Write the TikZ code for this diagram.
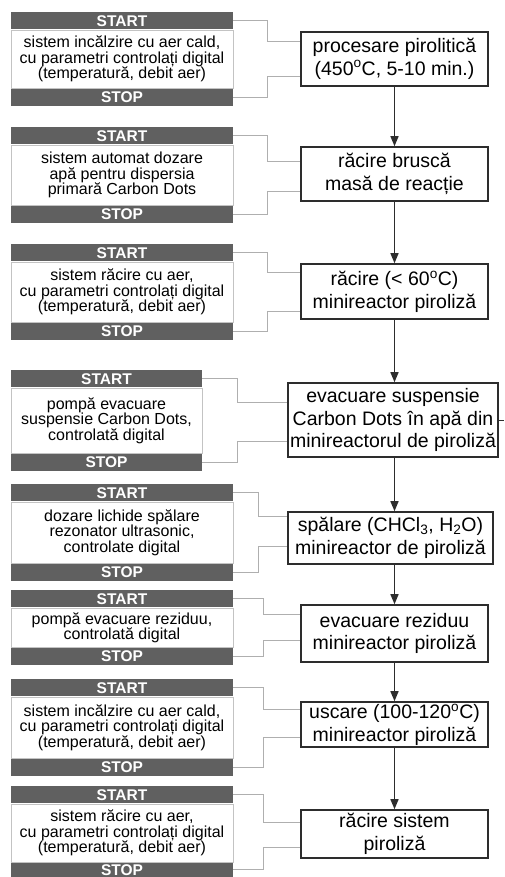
\documentclass[tikz,border=0pt]{standalone}
\usepackage{fontspec}
\setmainfont{Liberation Sans}
\usetikzlibrary{arrows.meta, positioning}
\definecolor{bargray}{RGB}{96,96,96}
\definecolor{linkgray}{RGB}{175,175,175}
\definecolor{framegray}{RGB}{195,195,195}
\definecolor{stepdark}{RGB}{45,45,45}

\begin{document}
\begin{tikzpicture}[x=1pt, y=-1pt,
  ctlbox/.style={draw=framegray, line width=0.8pt, fill=white, inner sep=0pt,
    minimum width=222pt, align=center, font=\fontsize{16}{15.3}\selectfont},
  ctlbar/.style={fill=bargray, text=white, inner sep=0pt, minimum width=222pt,
    minimum height=17pt, font=\fontsize{15.5}{17}\selectfont\bfseries},
  stepbox/.style={draw=stepdark, line width=1.6pt, fill=white, inner sep=0pt,
    minimum width=187pt, align=center, font=\fontsize{19.5}{22.7}\selectfont},
  link/.style={draw=linkgray, line width=1pt},
  flow/.style={draw=stepdark, line width=1.4pt, -{Triangle[length=10pt, width=8pt]}}]
  \useasboundingbox (0,0) rectangle (504,877);

  % --- Step 1: pyrolytic processing ---
  \node[ctlbox, minimum height=58pt] (ctl1) at (122,59)
    {sistem incălzire cu aer cald,\\cu parametri controlați digital\\(temperatură, debit aer)};
  \node[ctlbar, above=0pt of ctl1] (st1) {START};
  \node[ctlbar, below=0pt of ctl1] (sp1) {STOP};
  \node[stepbox, minimum height=54pt] (pr1) at (394.5,59)
    {procesare pirolitică\\(450\textsuperscript{o}C, 5-10 min.)};
  \draw[link] (st1.east) -- ++(34,0) |- ([yshift=-10pt]pr1.north west);
  \draw[link] (sp1.east) -- ++(34,0) |- ([yshift=10pt]pr1.south west);

  % --- Step 2: quenching ---
  \node[ctlbox, minimum height=60pt] (ctl2) at (122,175)
    {sistem automat dozare\\apă pentru dispersia\\primară Carbon Dots};
  \node[ctlbar, above=0pt of ctl2] (st2) {START};
  \node[ctlbar, below=0pt of ctl2] (sp2) {STOP};
  \node[stepbox, minimum height=54pt] (pr2) at (394.5,174)
    {răcire bruscă\\masă de reacție};
  \draw[link] (st2.east) -- ++(34,0) |- ([yshift=-15pt]pr2.north west);
  \draw[link] (sp2.east) -- ++(34,0) |- ([yshift=10pt]pr2.south west);

  % --- Step 3: cooling ---
  \node[ctlbox, minimum height=60pt] (ctl3) at (122,292)
    {sistem răcire cu aer,\\cu parametri controlați digital\\(temperatură, debit aer)};
  \node[ctlbar, above=0pt of ctl3] (st3) {START};
  \node[ctlbar, below=0pt of ctl3] (sp3) {STOP};
  \node[stepbox, minimum height=55pt] (pr3) at (394.5,291.5)
    {răcire (< 60\textsuperscript{o}C)\\minireactor piroliză};
  \draw[link] (st3.east) -- ++(34,0) |- ([yshift=-9pt]pr3.north west);
  \draw[link] (sp3.east) -- ++(34,0) |- ([yshift=8pt]pr3.south west);

  % --- Step 4: suspension discharge ---
  \node[ctlbox, minimum width=191pt, minimum height=65pt] (ctl4) at (106.5,420.5)
    {pompă evacuare\\suspensie Carbon Dots,\\controlată digital};
  \node[ctlbar, minimum width=191pt, above=0pt of ctl4] (st4) {START};
  \node[ctlbar, minimum width=191pt, below=0pt of ctl4] (sp4) {STOP};
  \node[stepbox, minimum width=210pt, minimum height=74pt] (pr4) at (393,420)
    {evacuare suspensie\\Carbon Dots în apă din\\minireactorul de piroliză};
  \draw[link] (st4.east) -- ++(35,0) |- ([yshift=-20pt]pr4.north west);
  \draw[link] (sp4.east) -- ++(35,0) |- ([yshift=16pt]pr4.south west);
  \draw[stepdark, line width=1pt] (pr4.east) -- ++(5,0);

  % --- Step 5: washing ---
  \node[ctlbox, minimum height=61pt] (ctl5) at (122,532.5)
    {dozare lichide spălare\\rezonator ultrasonic,\\controlate digital};
  \node[ctlbar, above=0pt of ctl5] (st5) {START};
  \node[ctlbar, below=0pt of ctl5] (sp5) {STOP};
  \node[stepbox, minimum width=205pt, minimum height=52pt] (pr5) at (390.5,538)
    {spălare (CHCl\textsubscript{3}, H\textsubscript{2}O)\\minireactor de piroliză};
  \draw[link] (st5.east) -- ++(25,0) |- ([yshift=-5pt]pr5.north west);
  \draw[link] (sp5.east) -- ++(25,0) |- ([yshift=18pt]pr5.south west);

  % --- Step 6: residue discharge ---
  \node[ctlbox, minimum height=39pt] (ctl6) at (122,627.5)
    {pompă evacuare reziduu,\\controlată digital};
  \node[ctlbar, above=0pt of ctl6] (st6) {START};
  \node[ctlbar, below=0pt of ctl6] (sp6) {STOP};
  \node[stepbox, minimum height=57pt] (pr6) at (394.5,633.5)
    {evacuare reziduu\\minireactor piroliză};
  \draw[link] (st6.east) -- ++(30,0) |- ([yshift=-10pt]pr6.north west);
  \draw[link] (sp6.east) -- ++(30,0) |- ([yshift=22pt]pr6.south west);

  % --- Step 7: drying ---
  \node[ctlbox, minimum height=61pt] (ctl7) at (122,727.5)
    {sistem incălzire cu aer cald,\\cu parametri controlați digital\\(temperatură, debit aer)};
  \node[ctlbar, above=0pt of ctl7] (st7) {START};
  \node[ctlbar, below=0pt of ctl7] (sp7) {STOP};
  \node[stepbox, minimum height=45pt] (pr7) at (394.5,724.5)
    {uscare (100-120\textsuperscript{o}C)\\minireactor piroliză};
  \draw[link] (st7.east) -- ++(30,0) |- ([yshift=-8pt]pr7.north west);
  \draw[link] (sp7.east) -- ++(30,0) |- ([yshift=10pt]pr7.south west);

  % --- Step 8: system cooling ---
  \node[ctlbox, minimum height=58pt] (ctl8) at (122,833)
    {sistem răcire cu aer,\\cu parametri controlați digital\\(temperatură, debit aer)};
  \node[ctlbar, above=0pt of ctl8] (st8) {START};
  \node[ctlbar, minimum height=14.5pt, below=0pt of ctl8] (sp8) {STOP};
  \node[stepbox, minimum height=48pt] (pr8) at (394.5,834)
    {răcire sistem\\piroliză};
  \draw[link] (st8.east) -- ++(30,0) |- ([yshift=-13pt]pr8.north west);
  \draw[link] (sp8.east) -- ++(30,0) |- ([yshift=11pt]pr8.south west);

  % Process flow
  \draw[flow] (pr1.south) -- (pr2.north -| pr1.south);
  \draw[flow] (pr2.south -| pr1.south) -- (pr3.north -| pr1.south);
  \draw[flow] (pr3.south -| pr1.south) -- (pr4.north -| pr1.south);
  \draw[flow] (pr4.south -| pr1.south) -- (pr5.north -| pr1.south);
  \draw[flow] (pr5.south -| pr1.south) -- (pr6.north -| pr1.south);
  \draw[flow] (pr6.south -| pr1.south) -- (pr7.north -| pr1.south);
  \draw[flow] (pr7.south -| pr1.south) -- (pr8.north -| pr1.south);
\end{tikzpicture}
\end{document}
